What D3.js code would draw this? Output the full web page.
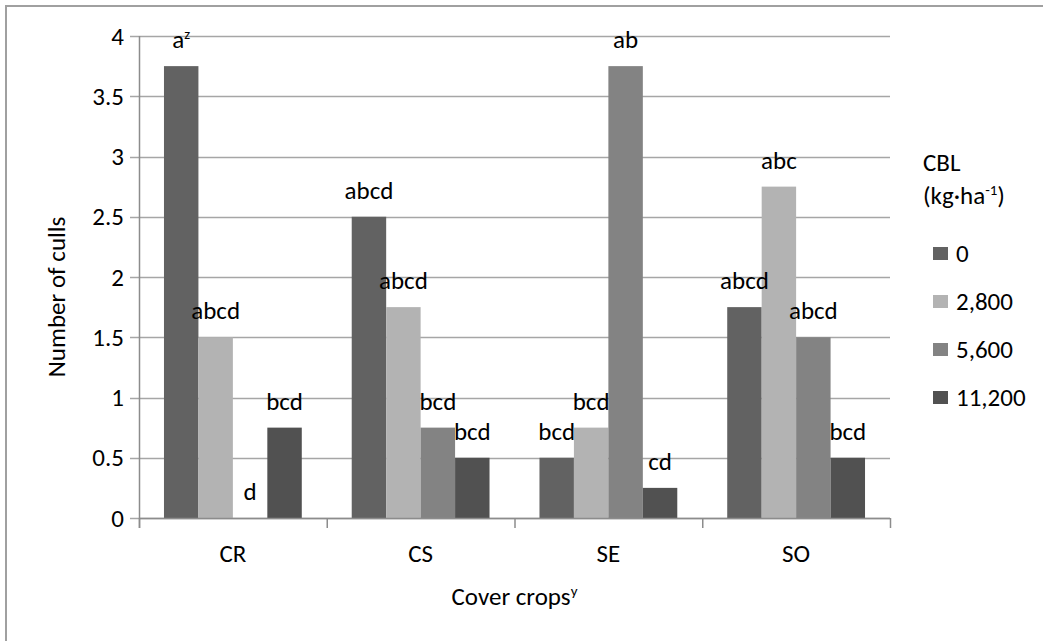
<!DOCTYPE html>
<html>
<head>
<meta charset="utf-8">
<script src="https://cdn.jsdelivr.net/npm/d3@7"></script>
<style>
  body { margin: 0; background: #fff; }
  text { font-family: Carlito, Calibri, Lato, sans-serif; fill: #000; }
</style>
</head>
<body>
<div id="chart"></div>
<script>
// data
var crops = ["CR", "CS", "SE", "SO"];
var rates = ["0", "2,800", "5,600", "11,200"];
var culls = [
  [3.75, 1.5, 0, 0.75],
  [2.5, 1.75, 0.75, 0.5],
  [0.5, 0.75, 3.75, 0.25],
  [1.75, 2.75, 1.5, 0.5]
];
var letters = [
  ["a^z", "abcd", "d", "bcd"],
  ["abcd", "abcd", "bcd", "bcd"],
  ["bcd", "bcd", "ab", "cd"],
  ["abcd", "abc", "abcd", "bcd"]
];
var yTicks = [0, 0.5, 1, 1.5, 2, 2.5, 3, 3.5, 4];
var colors = ["#626262", "#b3b3b3", "#838383", "#515151"];

var width = 1043, height = 641;
var plotLeft = 139, plotRight = 890, plotTop = 36, plotBottom = 518;
var fs = 25;

var svg = d3.select("#chart")
  .append("svg")
  .attr("width", width)
  .attr("height", height);

// outer frame (right and bottom fall outside the picture)
svg.append("rect")
  .attr("x", 6)
  .attr("y", 6)
  .attr("width", width + 20)
  .attr("height", height + 20)
  .style("fill", "white")
  .style("stroke", "#a0a0a0")
  .style("stroke-width", 2);

var y = d3.scaleLinear().domain([0, 4]).range([plotBottom, plotTop]);
var x0 = d3.scaleBand().domain(crops).range([plotLeft, plotRight]);
var pad = x0.bandwidth() * 0.133;
var x1 = d3.scaleBand().domain(rates).range([pad, x0.bandwidth() - pad]);

// gridlines
svg.append("g")
  .selectAll("line")
  .data(yTicks)
  .enter()
  .append("line")
  .attr("x1", plotLeft - 9)
  .attr("x2", plotRight)
  .attr("y1", function(d) { return Math.round(y(d)) + 0.5; })
  .attr("y2", function(d) { return Math.round(y(d)) + 0.5; })
  .style("stroke", "#a6a6a6")
  .style("stroke-width", 1.5);

// y tick labels
var yAxis = svg.append("g")
  .attr("transform", "translate(" + plotLeft + ",0)")
  .call(d3.axisLeft(y).tickValues(yTicks).tickSize(0).tickPadding(15)
    .tickFormat(function(d) { return String(d); }));
yAxis.select(".domain").remove();
yAxis.selectAll("text")
  .style("font-size", fs + "px")
  .style("font-family", null);

// bars
var groups = svg.append("g")
  .selectAll("g")
  .data(culls)
  .enter()
  .append("g")
  .attr("transform", function(d, i) { return "translate(" + x0(crops[i]) + ",0)"; });

groups.selectAll("rect")
  .data(function(d) { return d; })
  .enter()
  .append("rect")
  .attr("x", function(d, j) { return x1(rates[j]); })
  .attr("y", function(d) { return y(d); })
  .attr("width", x1.bandwidth())
  .attr("height", function(d) { return y(0) - y(d); })
  .style("fill", function(d, j) { return colors[j]; });

// letter labels
groups.each(function(d, i) {
  var g = d3.select(this);
  d.forEach(function(v, j) {
    var parts = letters[i][j].split("^");
    var t = g.append("text")
      .attr("x", x1(rates[j]) + x1.bandwidth() / 2)
      .attr("y", y(v) - 18)
      .style("font-size", fs + "px")
      .style("text-anchor", "middle");
    t.append("tspan").text(parts[0]);
    if (parts.length > 1) {
      t.append("tspan")
        .attr("dy", -9)
        .style("font-size", (fs * 0.6) + "px")
        .text(parts[1]);
    }
  });
});

// axis lines
svg.append("line")
  .attr("x1", plotLeft)
  .attr("x2", plotRight)
  .attr("y1", plotBottom + 0.5)
  .attr("y2", plotBottom + 0.5)
  .style("stroke", "#8c8c8c")
  .style("stroke-width", 1.5);

svg.append("line")
  .attr("x1", plotLeft + 0.5)
  .attr("x2", plotLeft + 0.5)
  .attr("y1", plotTop)
  .attr("y2", plotBottom + 10)
  .style("stroke", "#8c8c8c")
  .style("stroke-width", 1.5);

var bounds = crops.map(function(c) { return x0(c); }).concat([plotRight]);
svg.append("g")
  .selectAll("line")
  .data(bounds)
  .enter()
  .append("line")
  .attr("x1", function(d) { return d + 0.5; })
  .attr("x2", function(d) { return d + 0.5; })
  .attr("y1", plotBottom)
  .attr("y2", plotBottom + 10)
  .style("stroke", "#8c8c8c")
  .style("stroke-width", 1.5);

var xAxis = svg.append("g")
  .attr("transform", "translate(0," + plotBottom + ")")
  .call(d3.axisBottom(x0).tickSize(0).tickPadding(26));
xAxis.select(".domain").remove();
xAxis.selectAll("text")
  .style("font-size", fs + "px")
  .style("font-family", null);

// axis titles
var xt = svg.append("text")
  .attr("x", (plotLeft + plotRight) / 2)
  .attr("y", 605)
  .style("font-size", fs + "px")
  .style("text-anchor", "middle");
xt.append("tspan").text("Cover crops");
xt.append("tspan").attr("dy", -9).style("font-size", (fs * 0.6) + "px").text("y");

svg.append("text")
  .attr("transform", "translate(65,297) rotate(-90)")
  .style("font-size", fs + "px")
  .style("text-anchor", "middle")
  .text("Number of culls");

// legend
svg.append("text")
  .attr("x", 923)
  .attr("y", 171)
  .style("font-size", fs + "px")
  .text("CBL");

var lt = svg.append("text")
  .attr("x", 923)
  .attr("y", 204)
  .style("font-size", fs + "px");
lt.append("tspan").text("(kg\u00b7ha");
lt.append("tspan").attr("dy", -9).style("font-size", (fs * 0.6) + "px").text("-1");
lt.append("tspan").attr("dy", 9).text(")");

var legend = svg.append("g")
  .selectAll("g")
  .data(rates)
  .enter()
  .append("g")
  .attr("transform", function(d, i) { return "translate(933," + (253 + i * 48) + ")"; });

legend.append("rect")
  .attr("x", 0)
  .attr("y", -6)
  .attr("width", 15)
  .attr("height", 13)
  .style("fill", function(d, i) { return colors[i]; });

legend.append("text")
  .attr("x", 23)
  .attr("y", 9)
  .style("font-size", fs + "px")
  .text(function(d) { return d; });
</script>
</body>
</html>
